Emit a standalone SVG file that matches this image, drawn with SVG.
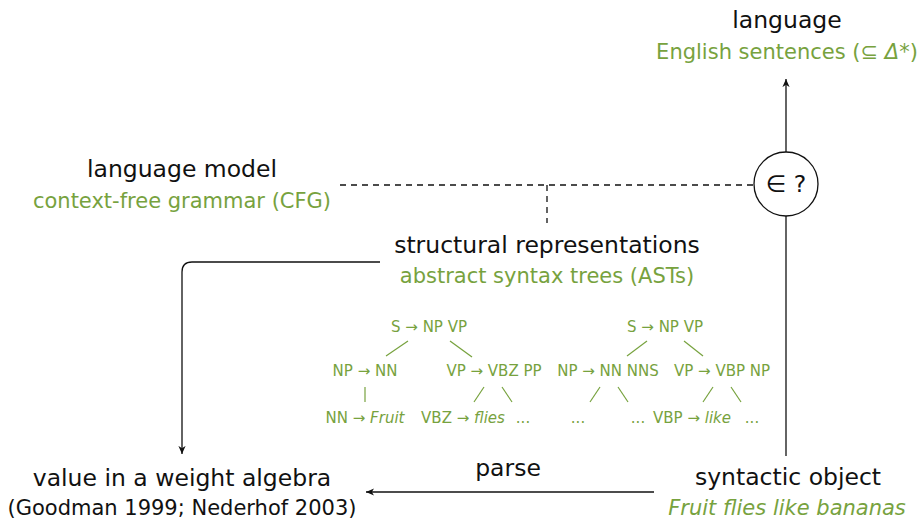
<svg xmlns="http://www.w3.org/2000/svg" width="920" height="522" viewBox="0 0 920 522">
  <defs>
    <style>
      text { font-family: "DejaVu Sans", "Noto Sans", sans-serif; text-anchor: middle; }
      .title { font-size: 23.5px; fill: #111; }
      .sub { font-size: 21px; fill: #77a23e; }
      .cite { font-size: 21px; fill: #111; }
      .tree { font-size: 15px; fill: #77a23e; }
      .it { font-style: italic; }
      .edge { stroke: #111; stroke-width: 1.3; fill: none; }
      .dash { stroke: #111; stroke-width: 1.3; fill: none; stroke-dasharray: 6 5; }
      .branch { stroke: #77a23e; stroke-width: 1.2; }
    </style>
    <marker id="arrow" viewBox="0 0 10 10" refX="9" refY="5" markerWidth="9" markerHeight="9" markerUnits="userSpaceOnUse" orient="auto">
      <path d="M0,1 L9,5 L0,9 L2.5,5 Z" fill="#111"/>
    </marker>
  </defs>

  <!-- connectors -->
  <g id="connectors">
    <line class="edge" x1="786" y1="152" x2="786" y2="79" marker-end="url(#arrow)"/>
    <line class="edge" x1="786" y1="216" x2="786" y2="456"/>
    <line class="dash" x1="340" y1="185" x2="754" y2="185"/>
    <line class="dash" x1="547" y1="185" x2="547" y2="223"/>
    <path class="edge" d="M380,262 L192,262 Q182,262 182,272 L182,454" marker-end="url(#arrow)"/>
    <line class="edge" x1="654" y1="492" x2="366" y2="492" marker-end="url(#arrow)"/>
  </g>

  <g id="language">
    <text class="title" x="787" y="28">language</text>
    <text class="sub" x="787" y="59">English sentences (⊆ <tspan class="it">Δ</tspan>*)</text>
  </g>

  <g id="membership">
    <circle cx="786" cy="184" r="32" fill="#fff" stroke="#111" stroke-width="1.3"/>
    <text class="title" x="786" y="192">∈ ?</text>
  </g>

  <g id="language-model">
    <text class="title" x="182" y="177">language model</text>
    <text class="sub" x="182" y="208">context-free grammar (CFG)</text>
  </g>

  <g id="structural-representations">
    <text class="title" x="547" y="253">structural representations</text>
    <text class="sub" x="547" y="283">abstract syntax trees (ASTs)</text>
  </g>

  <g id="tree-1">
    <text class="tree" x="429" y="332">S → NP VP</text>
    <text class="tree" x="365" y="376">NP → NN</text>
    <text class="tree" x="494" y="376">VP → VBZ PP</text>
    <text class="tree" x="365" y="423">NN → <tspan class="it">Fruit</tspan></text>
    <text class="tree" x="463" y="423">VBZ → <tspan class="it">flies</tspan></text>
    <text class="tree" x="523" y="423">...</text>
    <line class="branch" x1="408" y1="341" x2="386" y2="356"/>
    <line class="branch" x1="450" y1="341" x2="472" y2="357"/>
    <line class="branch" x1="365" y1="387" x2="365" y2="402"/>
    <line class="branch" x1="484" y1="387" x2="474" y2="402"/>
    <line class="branch" x1="502" y1="387" x2="512" y2="402"/>
  </g>

  <g id="tree-2">
    <text class="tree" x="665" y="332">S → NP VP</text>
    <text class="tree" x="608" y="376">NP → NN NNS</text>
    <text class="tree" x="722" y="376">VP → VBP NP</text>
    <text class="tree" x="578" y="423">...</text>
    <text class="tree" x="638" y="423">...</text>
    <text class="tree" x="692" y="423">VBP → <tspan class="it">like</tspan></text>
    <text class="tree" x="752" y="423">...</text>
    <line class="branch" x1="647" y1="341" x2="627" y2="356"/>
    <line class="branch" x1="684" y1="341" x2="703" y2="356"/>
    <line class="branch" x1="600" y1="387" x2="590" y2="402"/>
    <line class="branch" x1="618" y1="387" x2="628" y2="402"/>
    <line class="branch" x1="713" y1="387" x2="703" y2="402"/>
    <line class="branch" x1="731" y1="387" x2="741" y2="402"/>
  </g>

  <g id="weight-value">
    <text class="title" x="182" y="486">value in a weight algebra</text>
    <text class="cite" x="182" y="515">(Goodman 1999; Nederhof 2003)</text>
  </g>

  <g id="parse-label">
    <text class="title" x="508" y="476">parse</text>
  </g>

  <g id="syntactic-object">
    <text class="title" x="788" y="485">syntactic object</text>
    <text class="sub it" x="787" y="515">Fruit flies like bananas</text>
  </g>
</svg>
